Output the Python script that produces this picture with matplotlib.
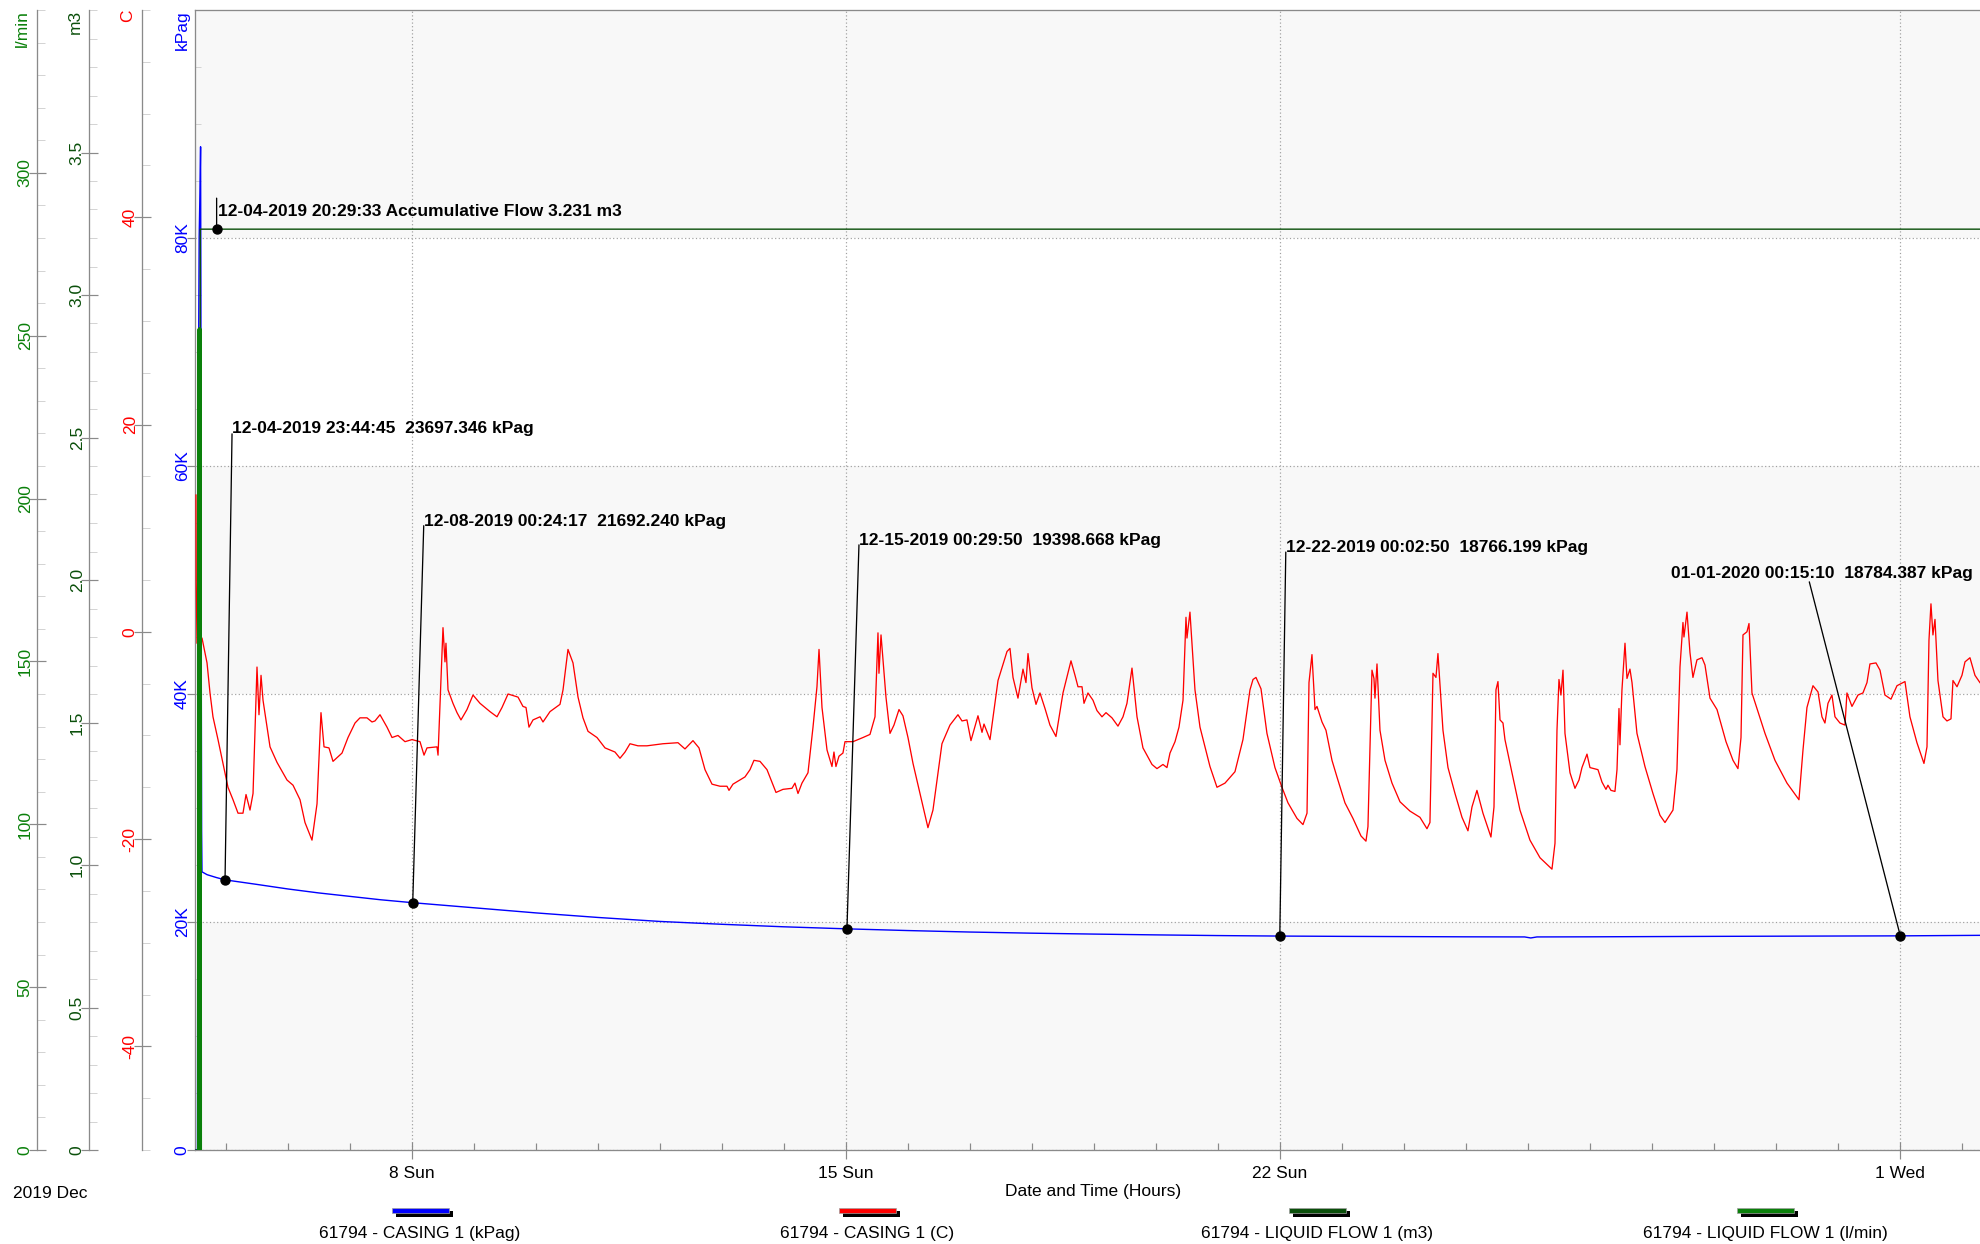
import matplotlib
matplotlib.use('Agg')
import matplotlib.pyplot as plt
import matplotlib.dates as mdates
from matplotlib.ticker import FixedLocator, NullFormatter
from matplotlib.patches import Rectangle
from datetime import datetime, timedelta

# ---------------- data (day = day of Dec 2019; >31 means January 2020) -------------
casing_c_points = [
    (4.521, 13.2), (4.525, 4.7), (4.537, -1.1), (4.618, -0.6), (4.699, -3.0), (4.747, -5.9),
    (4.795, -8.2), (4.876, -10.4), (4.957, -12.7), (5.037, -15.0), (5.118, -16.2), (5.199, -17.5),
    (5.279, -17.5), (5.328, -15.7), (5.392, -17.2), (5.441, -15.6), (5.505, -3.4), (5.537, -8.0),
    (5.570, -4.2), (5.602, -6.6), (5.715, -11.1), (5.828, -12.6), (5.989, -14.3), (6.086, -14.8),
    (6.199, -16.2), (6.279, -18.4), (6.392, -20.1), (6.473, -16.6), (6.537, -7.8), (6.586, -11.1),
    (6.666, -11.2), (6.731, -12.5), (6.876, -11.7), (6.973, -10.2), (7.086, -8.8), (7.166, -8.3),
    (7.279, -8.3), (7.360, -8.7), (7.408, -8.6), (7.489, -8.0), (7.602, -9.2), (7.683, -10.2),
    (7.779, -10.0), (7.892, -10.6), (8.005, -10.4), (8.134, -10.6), (8.199, -11.9), (8.247, -11.2),
    (8.408, -11.1), (8.425, -11.9), (8.473, -4.4), (8.505, 0.4), (8.537, -2.9), (8.553, -1.1),
    (8.586, -5.6), (8.666, -6.9), (8.731, -7.8), (8.795, -8.5), (8.892, -7.5), (8.989, -6.1),
    (9.102, -6.9), (9.263, -7.7), (9.376, -8.2), (9.457, -7.3), (9.554, -6.0), (9.715, -6.3),
    (9.795, -7.2), (9.844, -7.3), (9.892, -9.2), (9.957, -8.5), (10.070, -8.2), (10.118, -8.7),
    (10.231, -7.7), (10.392, -7.0), (10.441, -5.6), (10.521, -1.7), (10.602, -3.0), (10.683, -6.3),
    (10.763, -8.3), (10.844, -9.6), (10.989, -10.2), (11.118, -11.2), (11.279, -11.6), (11.360, -12.2),
    (11.441, -11.6), (11.521, -10.8), (11.650, -11.0),
    (11.795, -11.0), (12.053, -10.8), (12.295, -10.7), (12.408, -11.3), (12.537, -10.5), (12.634, -11.2),
    (12.731, -13.3), (12.844, -14.7), (12.973, -14.9), (13.086, -14.9), (13.118, -15.3), (13.182, -14.7),
    (13.376, -14.0), (13.457, -13.3), (13.521, -12.4), (13.618, -12.5), (13.731, -13.3), (13.811, -14.5),
    (13.876, -15.5), (13.989, -15.2), (14.134, -15.1), (14.182, -14.6), (14.231, -15.6), (14.295, -14.6),
    (14.392, -13.6), (14.473, -9.2), (14.537, -5.3), (14.570, -1.7), (14.618, -7.3), (14.699, -11.4),
    (14.779, -13.0), (14.811, -11.6), (14.843, -13.0), (14.892, -12.0), (14.956, -11.7), (14.989, -10.6),
    (15.118, -10.6), (15.279, -10.2), (15.392, -9.9), (15.473, -8.2), (15.521, -0.1), (15.537, -4.0),
    (15.570, -0.3), (15.650, -6.3), (15.715, -9.8), (15.779, -9.0), (15.860, -7.5), (15.924, -8.1),
    (16.005, -10.2), (16.086, -12.7), (16.199, -15.6), (16.327, -18.9), (16.408, -17.2), (16.553, -10.8),
    (16.682, -9.0), (16.811, -8.0), (16.876, -8.6), (16.956, -8.5), (17.021, -10.5), (17.134, -8.1),
    (17.199, -9.7), (17.231, -8.9), (17.328, -10.4), (17.457, -4.7), (17.602, -1.9), (17.650, -1.6),
    (17.699, -4.4), (17.779, -6.4), (17.860, -3.6), (17.908, -4.9), (17.941, -2.1), (18.005, -5.4),
    (18.070, -7.0), (18.134, -5.9), (18.215, -7.4), (18.295, -9.0), (18.392, -10.1), (18.505, -5.9),
    (18.634, -2.8), (18.699, -4.2), (18.747, -5.3),
    (18.812, -5.3), (18.844, -6.9), (18.908, -5.9), (18.989, -6.6), (19.053, -7.6), (19.134, -8.2),
    (19.199, -7.8), (19.295, -8.3), (19.392, -9.1), (19.473, -8.2), (19.537, -6.9), (19.618, -3.5),
    (19.699, -8.2), (19.795, -11.2), (19.941, -12.8), (20.021, -13.2), (20.118, -12.8), (20.182, -13.1),
    (20.231, -11.7), (20.312, -10.6), (20.376, -9.2), (20.441, -6.6), (20.489, 1.4), (20.505, -0.6),
    (20.553, 1.9), (20.634, -5.6), (20.715, -9.2), (20.876, -13.0), (20.989, -15.0), (21.118, -14.6),
    (21.279, -13.5), (21.408, -10.4), (21.521, -5.6), (21.570, -4.6), (21.618, -4.4), (21.699, -5.5),
    (21.795, -9.8), (21.924, -13.1), (22.037, -15.0), (22.134, -16.5), (22.279, -18.0), (22.376, -18.6),
    (22.441, -17.5), (22.473, -4.9), (22.521, -2.2), (22.570, -7.5), (22.602, -7.2), (22.683, -8.7),
    (22.747, -9.5), (22.844, -12.4), (22.924, -14.0), (23.053, -16.5), (23.182, -18.0), (23.312, -19.7),
    (23.392, -20.2), (23.424, -18.8), (23.489, -3.7), (23.521, -4.5), (23.537, -6.4), (23.570, -3.1),
    (23.618, -9.5), (23.699, -12.4), (23.812, -14.6), (23.941, -16.4), (24.102, -17.3), (24.263, -17.9),
    (24.376, -19.0), (24.424, -18.4), (24.473, -4.0), (24.521, -4.4), (24.553, -2.1), (24.634, -9.5),
    (24.715, -13.1), (24.828, -15.6), (24.941, -17.9), (25.037, -19.2), (25.102, -16.9), (25.182, -15.3),
    (25.279, -17.5), (25.408, -19.8), (25.457, -16.9), (25.489, -5.6), (25.521, -4.8), (25.554, -8.5),
    (25.602, -8.8), (25.634, -10.4), (25.747, -13.6), (25.876, -17.2),
    (26.037, -20.1), (26.199, -21.8), (26.392, -22.9), (26.441, -20.4), (26.473, -9.5), (26.505, -4.6),
    (26.537, -6.1), (26.570, -3.7), (26.602, -9.8), (26.683, -13.6), (26.763, -15.1), (26.828, -14.3),
    (26.876, -13.1), (26.957, -11.8), (27.005, -13.1), (27.134, -13.3), (27.199, -14.5), (27.263, -15.2),
    (27.295, -14.8), (27.344, -15.3), (27.408, -15.4), (27.441, -13.3), (27.473, -7.4), (27.489, -10.9),
    (27.521, -5.6), (27.570, -1.1), (27.602, -4.5), (27.650, -3.6), (27.683, -4.9), (27.763, -9.8),
    (27.892, -13.0), (28.021, -15.6), (28.134, -17.7), (28.215, -18.4), (28.344, -17.2), (28.408, -13.3),
    (28.457, -3.4), (28.505, 0.9), (28.521, -0.5), (28.570, 1.9), (28.618, -2.0), (28.666, -4.4),
    (28.731, -2.7), (28.812, -2.5), (28.860, -3.2), (28.941, -6.4), (29.054, -7.5), (29.199, -10.6),
    (29.312, -12.4), (29.392, -13.2), (29.441, -10.2), (29.473, -0.3), (29.537, 0.0), (29.570, 0.8),
    (29.618, -5.9), (29.715, -7.7), (29.828, -9.8), (29.989, -12.4), (30.183, -14.6), (30.376, -16.2),
    (30.441, -11.4), (30.505, -7.3), (30.602, -5.2), (30.683, -5.8), (30.747, -8.2), (30.795, -8.8),
    (30.844, -6.9), (30.908, -6.1), (30.957, -8.2), (31.037, -8.8), (31.118, -9.0), (31.150, -5.9),
    (31.231, -7.2), (31.328, -6.1), (31.408, -5.9), (31.473, -4.9), (31.521, -3.1), (31.618, -3.0),
    (31.683, -3.7), (31.763, -6.1), (31.860, -6.5), (31.957, -5.2), (32.086, -4.8), (32.166, -8.2),
    (32.279, -10.7), (32.392, -12.7), (32.441, -11.1), (32.473, -0.8), (32.505, 2.7), (32.537, -0.3),
    (32.570, 1.2), (32.618, -4.7), (32.699, -8.2), (32.763, -8.6), (32.828, -8.4), (32.860, -4.7),
    (32.925, -5.3), (33.005, -4.2), (33.054, -2.9), (33.134, -2.5), (33.215, -4.2), (33.295, -4.9),
]

casing_kpag_points = [
    (4.520, 0), (4.545, 0), (4.555, 45000), (4.565, 72000), (4.572, 80000), (4.585, 84000),
    (4.595, 88000), (4.600, 75000), (4.605, 45000), (4.612, 28000), (4.618, 24400), (4.700, 24150),
    (4.850, 23900), (4.989, 23697.346), (5.5, 23300), (6.0, 22900), (6.5, 22550), (7.0, 22250),
    (7.5, 21950), (8.017, 21692.240), (9.0, 21250), (10.0, 20800), (11.0, 20400), (12.0, 20050),
    (13.0, 19800), (14.0, 19580), (15.021, 19398.668), (16.0, 19250), (17.0, 19120), (18.0, 19020),
    (19.0, 18940), (20.0, 18870), (21.0, 18810), (22.002, 18766.199), (23.0, 18740), (24.0, 18720),
    (25.0, 18700), (25.95, 18690), (26.05, 18600), (26.15, 18690), (27.0, 18700), (28.0, 18720),
    (29.0, 18740), (30.0, 18755), (31.0, 18770), (32.011, 18784.387), (33.3, 18830),
]

flow_m3_points = [(4.520, 0.0), (4.580, 0.0), (4.590, 3.231), (33.3, 3.231)]
flow_lmin_points = [(4.576, 0), (4.580, 252), (4.584, 0)]

x_major_days = [8, 15, 22, 32]
x_major_labels = ['8 Sun', '15 Sun', '22 Sun', '1 Wed']
x_minor_days = list(range(5, 34))
x_start_day, x_end_day = 4.505, 33.296

kpag_ticks = [0, 20000, 40000, 60000, 80000]
kpag_labels = ['0', '20K', '40K', '60K', '80K']
c_ticks = [-40, -20, 0, 20, 40]
c_labels = ['-40', '-20', '0', '20', '40']
m3_ticks = [0, 0.5, 1.0, 1.5, 2.0, 2.5, 3.0, 3.5]
m3_labels = ['0', '0.5', '1.0', '1.5', '2.0', '2.5', '3.0', '3.5']
lmin_ticks = [0, 50, 100, 150, 200, 250, 300]
lmin_labels = ['0', '50', '100', '150', '200', '250', '300']

annotations = [
    # (timestamp, value, axis, label)
    ('2019-12-04 20:29:33', 3.231, 'm3', '12-04-2019 20:29:33 Accumulative Flow 3.231 m3'),
    ('2019-12-04 23:44:45', 23697.346, 'kpag', '12-04-2019 23:44:45  23697.346 kPag'),
    ('2019-12-08 00:24:17', 21692.240, 'kpag', '12-08-2019 00:24:17  21692.240 kPag'),
    ('2019-12-15 00:29:50', 19398.668, 'kpag', '12-15-2019 00:29:50  19398.668 kPag'),
    ('2019-12-22 00:02:50', 18766.199, 'kpag', '12-22-2019 00:02:50  18766.199 kPag'),
    ('2020-01-01 00:15:10', 18784.387, 'kpag', '01-01-2020 00:15:10  18784.387 kPag'),
]
legend_labels = ['61794 - CASING 1 (kPag)', '61794 - CASING 1 (C)',
                 '61794 - LIQUID FLOW 1 (m3)', '61794 - LIQUID FLOW 1 (l/min)']

# ---------------- style -------------
BLUE, RED, DKGREEN, GREEN = '#0000ff', '#ff0000', '#0a4f0a', '#0a800a'
GREY, LTGREY = '#8a8a8a', '#d4d4d4'
W, H, DPI = 1980, 1244, 100
plt.rcParams['font.family'] = ['Liberation Sans', 'DejaVu Sans']
plt.rcParams['font.size'] = 12.5

BASE = datetime(2019, 12, 1)


def dn(day):
    return mdates.date2num(BASE + timedelta(days=day - 1))


def pt(p):
    return p * 72.0 / DPI


def unzip(pts):
    return [dn(p[0]) for p in pts], [p[1] for p in pts]


fig = plt.figure(figsize=(W / DPI, H / DPI), dpi=DPI)
L, R, T, B = 195, 1980, 10, 1150
ax = fig.add_axes([L / W, 1 - B / H, (R - L) / W, (B - T) / H])
ax.set_xlim(dn(x_start_day), dn(x_end_day))
ax.set_ylim(0, 100000)
ax.set_facecolor('white')
ax.set_axisbelow(True)

# bands
bands = [0, 20000, 40000, 60000, 80000, 100000]
for i in range(len(bands) - 1):
    if i % 2 == 0:
        ax.axhspan(bands[i], bands[i + 1], color='#f8f8f8', zorder=0, lw=0)

for s in ['right']:
    ax.spines[s].set_visible(False)
for s in ['left', 'bottom', 'top']:
    ax.spines[s].set_color(GREY)
    ax.spines[s].set_linewidth(pt(1.3))

ax.yaxis.set_major_locator(FixedLocator(kpag_ticks))
ax.set_yticklabels(kpag_labels)
ax.yaxis.set_minor_locator(FixedLocator(list(range(0, 100001, 5000))))
ax.tick_params(axis='y', which='major', direction='out', length=pt(8), width=pt(1.2),
               color=GREY, labelcolor=BLUE, pad=-2, labelsize=12.5)
ax.tick_params(axis='y', which='minor', direction='in', length=pt(6), width=pt(1.0), color=LTGREY)
for lab in ax.get_yticklabels():
    lab.set_rotation(90)
    lab.set_va('center')
    lab.set_ha('right')

ax.xaxis.set_major_locator(FixedLocator([dn(d) for d in x_major_days]))
ax.set_xticklabels(x_major_labels)
ax.xaxis.set_minor_locator(FixedLocator([dn(d) for d in x_minor_days]))
ax.xaxis.set_minor_formatter(NullFormatter())
ax.tick_params(axis='x', which='major', direction='inout', length=pt(17), width=pt(1.2),
               color=GREY, labelcolor='black', pad=5.5, labelsize=12.5)
ax.tick_params(axis='x', which='minor', direction='in', length=pt(7), width=pt(1.2), color=GREY)

ax.grid(True, which='major', axis='both', color='#a0a0a0', linestyle=(0, (1, 2)), linewidth=pt(1.2))

# blue series
kx, ky = unzip(casing_kpag_points)
ax.plot(kx, ky, color=BLUE, lw=pt(1.4), zorder=3)


def make_axis(pos_px, ylim, color, ticks, labels, minor_step):
    a = ax.twinx()
    a.set_ylim(*ylim)
    a.spines['left'].set_visible(True)
    a.spines['left'].set_position(('axes', (pos_px - L) / (R - L)))
    a.spines['left'].set_color(GREY)
    a.spines['left'].set_linewidth(pt(1.3))
    for s in ['right', 'top', 'bottom']:
        a.spines[s].set_visible(False)
    a.yaxis.set_ticks_position('left')
    a.yaxis.set_label_position('left')
    a.yaxis.set_major_locator(FixedLocator(ticks))
    a.set_yticklabels(labels)
    n = int(round((ylim[1] - ylim[0]) / minor_step))
    a.yaxis.set_minor_locator(FixedLocator([ylim[0] + k * minor_step for k in range(n + 1)]))
    a.tick_params(axis='y', which='major', direction='inout', length=pt(17), width=pt(1.2),
                  color=GREY, labelcolor=color, pad=-3, labelsize=12.5)
    a.tick_params(axis='y', which='minor', direction='in', length=pt(8), width=pt(1.0), color=LTGREY)
    for lab in a.get_yticklabels():
        lab.set_rotation(90)
        lab.set_va('center')
        lab.set_ha('right')
    a.patch.set_visible(False)
    return a


ax_c = make_axis(142, (-50, 60), RED, c_ticks, c_labels, 5)
cx, cy = unzip(casing_c_points)
ax_c.plot(cx, cy, color=RED, lw=pt(1.3), zorder=3)

ax_m3 = make_axis(89, (0, 4), DKGREEN, m3_ticks, m3_labels, 0.1)
mx, my = unzip(flow_m3_points)
ax_m3.plot(mx, my, color=DKGREEN, lw=pt(1.4), zorder=3)

ax_l = make_axis(37, (0, 350), GREEN, lmin_ticks, lmin_labels, 10)
lx, ly = unzip(flow_lmin_points)
ax_l.plot(lx, ly, color=GREEN, lw=pt(4.3), zorder=3, solid_capstyle='butt')

# axis titles at top
for xpx, txt, col in [(22, 'l/min', GREEN), (75.5, 'm3', DKGREEN), (127.5, 'C', RED), (182, 'kPag', BLUE)]:
    fig.text(xpx / W, 1 - 10 / H, txt, rotation=90, ha='center', va='top', color=col, fontsize=12.5)

# annotations (offsets in pixels: leader end, text anchor)
ann_offsets = [
    ((0, 31), (1, 13)),
    ((7, 446), (7, 447)),
    ((11, 377), (11, 377)),
    ((12, 384), (12, 384)),
    ((6, 384), (6, 384)),
    ((-91, 354), (-229, 358)),
]
axes_for = {'kpag': ax, 'm3': ax_m3}
for (ts, val, which, label), (lead, toff) in zip(annotations, ann_offsets):
    t = mdates.date2num(datetime.strptime(ts, '%Y-%m-%d %H:%M:%S'))
    tr = axes_for[which].transData
    ax_l.annotate('', xy=(t, val), xycoords=tr, xytext=lead, textcoords='offset pixels',
                  arrowprops=dict(arrowstyle='-', color='black', lw=pt(1.3), shrinkA=0, shrinkB=0))
    ax_l.plot([t], [val], 'o', color='black', ms=pt(9), transform=tr, zorder=6)
    ax_l.annotate(label, xy=(t, val), xycoords=tr, xytext=toff, textcoords='offset pixels',
                  ha='left', va='baseline', fontweight='bold', fontsize=12.5, color='black', zorder=7)

# bottom texts
fig.text(13 / W, 1 - 1198 / H, '2019 Dec', ha='left', va='baseline', fontsize=12.5)
fig.text(1093 / W, 1 - 1196 / H, 'Date and Time (Hours)', ha='center', va='baseline', fontsize=12.5)

# legend
leg_centers = [420, 867, 1317, 1765]
leg_colors = [BLUE, RED, DKGREEN, GREEN]
for cxp, col, lab in zip(leg_centers, leg_colors, legend_labels):
    fig.add_artist(Rectangle(((cxp - 24.5) / W, 1 - 1217 / H), 57 / W, 6 / H,
                             transform=fig.transFigure, facecolor='black', edgecolor='none'))
    fig.add_artist(Rectangle(((cxp - 28.5) / W, 1 - 1213 / H), 57 / W, 5.5 / H,
                             transform=fig.transFigure, facecolor=col, edgecolor='#a0a0a0', lw=0.5))
    fig.text(cxp / W, 1 - 1238 / H, lab, ha='center', va='baseline', fontsize=12.5)

fig.savefig('out.png', dpi=DPI)
